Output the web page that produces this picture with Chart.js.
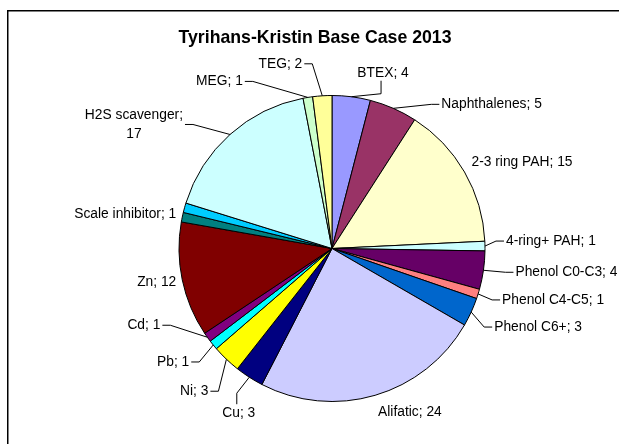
<!DOCTYPE html>
<html>
<head>
<meta charset="utf-8">
<script src="https://cdn.jsdelivr.net/npm/chart.js@4"></script>
<style>
  html, body { margin: 0; padding: 0; background: #fff; }
  #contenedor { width: 619px; height: 444px; position: relative; overflow: hidden; }
</style>
</head>
<body>
<div id="contenedor"><canvas id="grafico" width="619" height="444"></canvas></div>
<script>
const titulo = 'Tyrihans-Kristin Base Case 2013'

// componentes en el orden del gráfico (horario desde arriba)
const categorias = ['BTEX', 'Naphthalenes', '2-3 ring PAH', '4-ring+ PAH', 'Phenol C0-C3', 'Phenol C4-C5', 'Phenol C6+',
    'Alifatic', 'Cu', 'Ni', 'Pb', 'Cd', 'Zn', 'Scale inhibitor', '', 'H2S scavenger', 'MEG', 'TEG']
const valores = [4, 5, 15, 1, 4, 1, 3, 24, 3, 3, 1, 1, 12, 1, 1, 17, 1, 2]
const colores = ['#9999FF', '#993366', '#FFFFCC', '#CCFFFF', '#660066', '#FF8080', '#0066CC', '#CCCCFF', '#000080',
    '#FFFF00', '#00FFFF', '#800080', '#800000', '#008080', '#00CCFF', '#CCFFFF', '#CCFFCC', '#FFFF99']

// desplazamiento de cada etiqueta respecto al borde del sector, y tipo de línea guía
const desplazamiento = [[6, -24], [48, -4], [7, -10], [21, -5], [32, 2], [24, 6], [23, 15], [3, 17], [6, 36],
    [-18, 32], [-24, 17], [-47, -12], [-6, 2], [-6, -3], null, [-47, -10], [-65, -16], [-20, -32]]
const guia = ['v', 'h', '', 'h', 'h', 'h', 'h', '', 'v', 'h', 'h', 'h', '', '', '', 'h', 'h', 'h']

const fuente = '"Liberation Sans", Arial, sans-serif'

//PLUGIN PARA MARCO, TÍTULO Y ETIQUETAS
const etiquetas = {
    id: 'etiquetas',
    beforeDraw(chart) {
        const ctx = chart.ctx
        ctx.save()
        ctx.strokeStyle = '#000'
        ctx.lineWidth = 1.5
        ctx.strokeRect(7.75, 10.75, 800, 800)
        ctx.fillStyle = '#000'
        ctx.font = `bold 17.7px ${fuente}`
        ctx.textAlign = 'center'
        ctx.textBaseline = 'alphabetic'
        ctx.fillText(titulo, 315, 42.5)
        ctx.restore()
    },
    afterDatasetsDraw(chart) {
        const ctx = chart.ctx
        const arcos = chart.getDatasetMeta(0).data
        ctx.save()
        ctx.font = `13.8px ${fuente}`
        ctx.fillStyle = '#000'
        ctx.strokeStyle = '#000'
        ctx.lineWidth = 1
        ctx.textBaseline = 'middle'
        arcos.forEach((arco, i) => {
            if (!categorias[i]) return
            const { x, y, startAngle, endAngle, outerRadius } = arco.getProps(['x', 'y', 'startAngle', 'endAngle', 'outerRadius'], true)
            const medio = (startAngle + endAngle) / 2
            const px = x + Math.cos(medio) * outerRadius
            const py = y + Math.sin(medio) * outerRadius
            const derecha = Math.cos(medio) >= 0

            const texto = `${categorias[i]}; ${valores[i]}`
            let lineas = [texto]
            if (ctx.measureText(texto).width > 110) {
                const k = texto.lastIndexOf(' ')
                lineas = [texto.slice(0, k), texto.slice(k + 1)]
            }
            const ancho = Math.max(...lineas.map(l => ctx.measureText(l).width))
            const interlineado = 19
            const alto = lineas.length * interlineado

            const [dx, dy] = desplazamiento[i]
            const lx = px + dx
            const ly = py + dy
            const centroX = derecha ? lx + ancho / 2 : lx - ancho / 2

            ctx.textAlign = 'center'
            lineas.forEach((l, j) => {
                ctx.fillText(l, centroX, ly + (j - (lineas.length - 1) / 2) * interlineado)
            })

            ctx.beginPath()
            if (guia[i] === 'h') {
                const sx = derecha ? lx - 2 : lx + 2
                const ex = derecha ? sx - 8 : sx + 8
                ctx.moveTo(sx, ly)
                ctx.lineTo(ex, ly)
                ctx.lineTo(px, py)
            } else if (guia[i] === 'v') {
                const encima = ly < py
                const sy = encima ? ly + 8 : ly - 9
                const ey = encima ? sy + 13 : sy - 11
                ctx.moveTo(centroX - 2, sy)
                ctx.lineTo(centroX - 2, ey)
                ctx.lineTo(px, py)
            }
            ctx.stroke()
        })
        ctx.restore()
    }
}

const ctx = document.querySelector('#grafico').getContext('2d')
new Chart(ctx, {
    type: 'pie',
    data: {
        labels: categorias,
        datasets: [{
            data: valores,
            backgroundColor: colores,
            borderColor: '#000',
            borderWidth: 1
        }]
    },
    options: {
        responsive: false,
        animation: false,
        layout: { padding: { left: 45, right: 0, top: 95, bottom: 42 } },
        plugins: {
            legend: { display: false },
            tooltip: { enabled: false },
            title: { display: false }
        }
    },
    plugins: [etiquetas]
})
</script>
</body>
</html>
